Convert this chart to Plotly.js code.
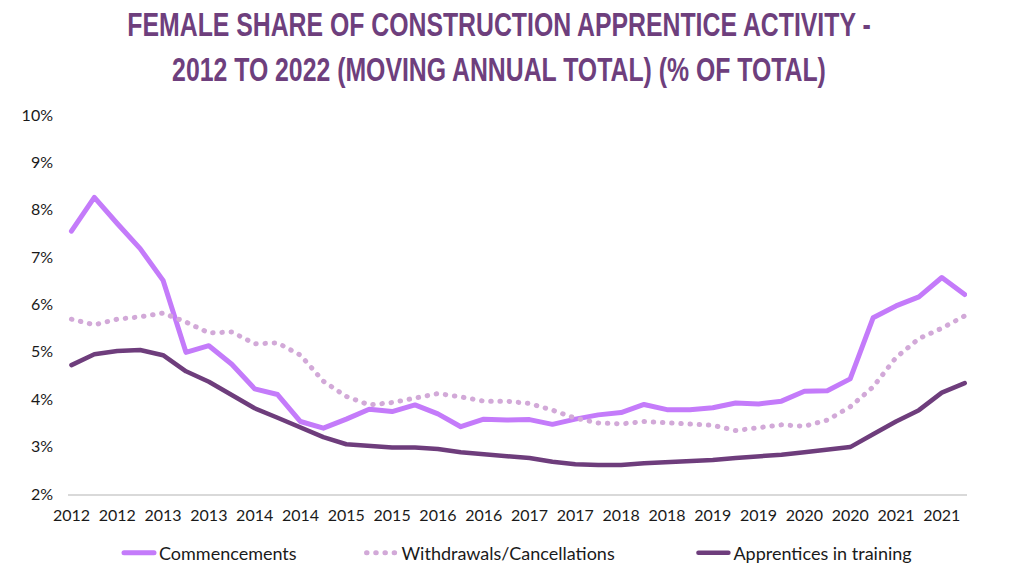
<!DOCTYPE html>
<html>
<head>
<meta charset="utf-8">
<script src="https://cdn.plot.ly/plotly-3.0.1.min.js"></script>
<style>
  html, body { margin: 0; padding: 0; background: #ffffff; }
  #chart { width: 1024px; height: 578px; }
  .scatterlayer .js-line { stroke-linecap: round; stroke-linejoin: round; }
  .legend .js-line { stroke-linecap: round; }
  .gtitle { transform-box: view-box; transform-origin: 499px 0px; transform: scaleX(0.73); }
</style>
</head>
<body>
<div id="chart"></div>
<script>
// Period labels (quarterly moving annual totals, every second label shown)
const periodLabels = [
  "2012","2012","2012","2012","2013","2013","2013","2013","2014","2014",
  "2014","2014","2015","2015","2015","2015","2016","2016","2016","2016",
  "2017","2017","2017","2017","2018","2018","2018","2018","2019","2019",
  "2019","2019","2020","2020","2020","2020","2021","2021","2021","2021"
];
const tickLabels = ["2012","2012","2013","2013","2014","2014","2015","2015","2016","2016",
                    "2017","2017","2018","2018","2019","2019","2020","2020","2021","2021"];

// Female share (%) of total
const commencements = [
  7.55, 8.26, 7.71, 7.18, 6.51, 4.99, 5.13, 4.74, 4.22, 4.10,
  3.53, 3.39, 3.58, 3.79, 3.74, 3.88, 3.69, 3.42, 3.58, 3.56,
  3.57, 3.47, 3.58, 3.67, 3.72, 3.89, 3.78, 3.78, 3.82, 3.92,
  3.90, 3.96, 4.17, 4.18, 4.43, 5.72, 5.97, 6.16, 6.57, 6.21
];
const withdrawals = [
  5.69, 5.57, 5.69, 5.74, 5.82, 5.63, 5.40, 5.42, 5.17, 5.19,
  4.93, 4.38, 4.06, 3.88, 3.93, 4.02, 4.12, 4.05, 3.96, 3.96,
  3.91, 3.77, 3.60, 3.50, 3.48, 3.53, 3.50, 3.46, 3.45, 3.34,
  3.39, 3.46, 3.43, 3.56, 3.84, 4.26, 4.88, 5.28, 5.50, 5.76
];
const inTraining = [
  4.72, 4.95, 5.02, 5.04, 4.93, 4.59, 4.37, 4.10, 3.81, 3.61,
  3.41, 3.20, 3.05, 3.01, 2.98, 2.98, 2.95, 2.88, 2.84, 2.80,
  2.76, 2.68, 2.63, 2.61, 2.61, 2.65, 2.67, 2.69, 2.72, 2.76,
  2.79, 2.83, 2.88, 2.93, 2.99, 3.26, 3.53, 3.77, 4.14, 4.34
];
const yTicks = [2,3,4,5,6,7,8,9,10];
const seriesNames = ["Commencements", "Withdrawals/Cancellations", "Apprentices in training"];

const idx = periodLabels.map((_, i) => i);
const tickIdx = tickLabels.map((_, i) => i * 2);
const pad = n => "\u00a0".repeat(n);

const traces = [
  { x: idx, y: commencements, name: seriesNames[0] + pad(13), type: "scatter", mode: "lines",
    line: { color: "#C47BFA", width: 5 }, text: periodLabels,
    hovertemplate: "%{text}: %{y:.2f}%<extra>" + seriesNames[0] + "</extra>" },
  { x: idx, y: withdrawals, name: seriesNames[1] + pad(16), type: "scatter", mode: "lines",
    line: { color: "#D2A9D8", width: 5, dash: "0.5px,8.7px" }, text: periodLabels,
    hovertemplate: "%{text}: %{y:.2f}%<extra>" + seriesNames[1] + "</extra>" },
  { x: idx, y: inTraining, name: seriesNames[2], type: "scatter", mode: "lines",
    line: { color: "#6E3D7C", width: 4.5 }, text: periodLabels,
    hovertemplate: "%{text}: %{y:.2f}%<extra>" + seriesNames[2] + "</extra>" }
];

const layout = {
  width: 1024, height: 578,
  paper_bgcolor: "#ffffff", plot_bgcolor: "#ffffff",
  margin: { l: 68, r: 57, t: 115, b: 84, pad: 0 },
  title: {
    text: "FEMALE SHARE OF CONSTRUCTION APPRENTICE ACTIVITY -<br>2012 TO 2022 (MOVING ANNUAL TOTAL) (% OF TOTAL)",
    font: { family: "Liberation Sans Narrow, Arial Narrow, sans-serif", size: 34, color: "#6E3F7D", weight: 700 },
    x: 499 / 1024, xref: "container", xanchor: "center",
    y: 0.937, yref: "container", yanchor: "top"
  },
  xaxis: {
    range: [-0.15, 39.1],
    tickmode: "array", tickvals: tickIdx, ticktext: tickLabels,
    showgrid: false, zeroline: false,
    showline: true, linecolor: "#D9D9D9", linewidth: 1.5,
    ticks: "", ticklabelstandoff: 6,
    tickfont: { family: "Lato, sans-serif", size: 16, color: "#1a1a1a" },
    fixedrange: true
  },
  yaxis: {
    range: [2, 10],
    tickmode: "array", tickvals: yTicks, ticktext: yTicks.map(v => v + "%"),
    showgrid: false, zeroline: false, showline: false,
    ticks: "", ticklabelstandoff: 14,
    tickfont: { family: "Lato, sans-serif", size: 16, color: "#1a1a1a" },
    fixedrange: true
  },
  showlegend: true,
  legend: {
    orientation: "h", xref: "container", x: 518 / 1024, xanchor: "center",
    yref: "container", y: 25 / 578, yanchor: "middle",
    font: { family: "Lato, sans-serif", size: 18, color: "#1a1a1a" },
    itemwidth: 30, tracegroupgap: 0
  },
  hovermode: "closest"
};

Plotly.newPlot("chart", traces, layout, { displayModeBar: false, staticPlot: false });
</script>
</body>
</html>
